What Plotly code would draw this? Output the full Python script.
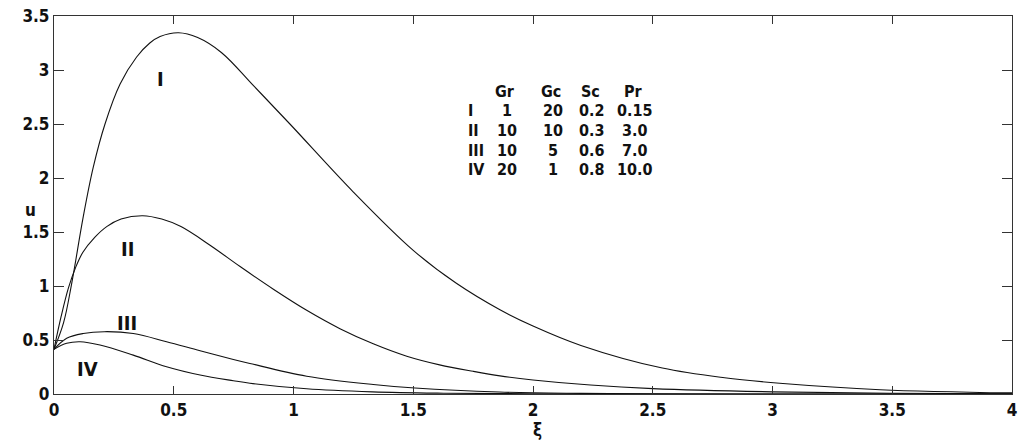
import plotly.graph_objects as go

# ---- data ----
x_I = [0, 0.04, 0.074, 0.122, 0.164, 0.213, 0.276, 0.345, 0.4, 0.443, 0.52, 0.6, 0.7, 0.835, 0.985, 1.25, 1.5, 1.68, 1.862, 2.0, 2.2, 2.54, 2.8, 3.03, 3.45, 4.0]
u_I = [0.414, 0.66, 1.025, 1.64, 2.1, 2.5, 2.87, 3.12, 3.25, 3.31, 3.345, 3.30, 3.16, 2.85, 2.5, 1.87, 1.33, 1.025, 0.78, 0.63, 0.45, 0.24, 0.15, 0.10, 0.04, 0.01]

x_II = [0, 0.03, 0.06, 0.09, 0.12, 0.17, 0.22, 0.28, 0.37, 0.45, 0.53, 0.65, 0.777, 0.916, 1.055, 1.194, 1.333, 1.473, 1.61, 1.75, 1.862, 2.0, 2.24, 2.5, 3.0, 3.5, 4.0]
u_II = [0.414, 0.72, 0.98, 1.17, 1.31, 1.45, 1.55, 1.62, 1.651, 1.62, 1.55, 1.38, 1.18, 0.97, 0.775, 0.605, 0.465, 0.35, 0.27, 0.21, 0.168, 0.13, 0.083, 0.05, 0.02, 0.007, 0.003]

x_III = [0, 0.053, 0.122, 0.21, 0.331, 0.47, 0.61, 0.749, 0.818, 1.055, 1.333, 1.507, 1.86, 2.2, 2.5, 3.0, 4.0]
u_III = [0.414, 0.516, 0.56, 0.577, 0.56, 0.484, 0.40, 0.32, 0.283, 0.165, 0.088, 0.055, 0.018, 0.006, 0.002, 0.0, 0.0]

x_IV = [0, 0.053, 0.109, 0.192, 0.331, 0.47, 0.61, 0.749, 0.818, 1.055, 1.33, 1.6, 2.0, 3.0, 4.0]
u_IV = [0.414, 0.47, 0.484, 0.454, 0.36, 0.253, 0.176, 0.123, 0.10, 0.048, 0.02, 0.008, 0.002, 0.0, 0.0]

curve_names = ["I", "II", "III", "IV"]
label_x = [0.443, 0.306, 0.306, 0.139]
label_u = [2.92, 1.34, 0.66, 0.229]

x_ticks = [0, 0.5, 1, 1.5, 2, 2.5, 3, 3.5, 4]
x_ticktext = ["0", "0.5", "1", "1.5", "2", "2.5", "3", "3.5", "4"]
u_ticks = [0, 0.5, 1, 1.5, 2, 2.5, 3, 3.5]
u_ticktext = ["0", "0.5", "1", "1.5", "2", "2.5", "3", "3.5"]

table_header = ["Gr", "Gc", "Sc", "Pr"]
table_rows = ["I", "II", "III", "IV"]
Gr = ["1", "10", "10", "20"]
Gc = ["20", "10", "5", "1"]
Sc = ["0.2", "0.3", "0.6", "0.8"]
Pr = ["0.15", "3.0", "7.0", "10.0"]

FONT = "DejaVu Sans Condensed, Liberation Sans Narrow, sans-serif"

fig = go.Figure()
for xs, us in [(x_I, u_I), (x_II, u_II), (x_III, u_III), (x_IV, u_IV)]:
    fig.add_trace(go.Scatter(x=xs, y=us, mode="lines",
                             line=dict(color="#111", width=1.1, shape="spline", smoothing=1.0),
                             showlegend=False, hoverinfo="skip"))

ann = []
for name, lx, lu in zip(curve_names, label_x, label_u):
    ann.append(dict(x=lx, y=lu, xref="x", yref="y", text="<b>%s</b>" % name, showarrow=False,
                    xanchor="center", yanchor="middle",
                    font=dict(family=FONT, size=20, color="#111")))

# table: page-pixel layout converted to data coords (plot area 54..1012 px, 16..394 px)
def px2x(p):
    return (p - 54) / 958 * 4
def py2u(p):
    return (394 - p) / 378 * 3.5

col_px = [505, 551, 590, 633]
head_py = 91
row_py = [110.5, 130, 150, 169.5]
roman_px = 466
tfont = dict(family=FONT, size=16, color="#111")
for h, cx in zip(table_header, col_px):
    ann.append(dict(x=px2x(cx), y=py2u(head_py), text="<b>%s</b>" % h, showarrow=False, font=tfont,
                    xanchor="center", yanchor="middle"))
for i, r in enumerate(table_rows):
    ann.append(dict(x=px2x(roman_px), y=py2u(row_py[i]), text="<b>%s</b>" % r, showarrow=False,
                    font=tfont, xanchor="left", yanchor="middle"))
    for vals, cx in zip([Gr, Gc, Sc, Pr], col_px):
        ann.append(dict(x=px2x(cx + 2), y=py2u(row_py[i]), text="<b>%s</b>" % vals[i], showarrow=False,
                        font=tfont, xanchor="center", yanchor="middle"))

# axis titles
ann.append(dict(x=(537 - 54) / 958, y=-(430 - 394) / 378, xref="paper", yref="paper", text="<b>ξ</b>",
                showarrow=False, xanchor="center", yanchor="middle",
                font=dict(family=FONT, size=17, color="#111")))
ann.append(dict(x=(30 - 54) / 958, y=(394 - 210) / 378, xref="paper", yref="paper", text="<b>u</b>",
                showarrow=False, xanchor="center", yanchor="middle",
                font=dict(family=FONT, size=17, color="#111")))

axis_common = dict(showline=True, linecolor="#333", linewidth=1.2, mirror="ticks", ticks="inside",
                   tickcolor="#333", showgrid=False, zeroline=False, automargin=False,
                   ticklabeloverflow="allow",
                   tickfont=dict(family=FONT, size=17, color="#111"))

fig.update_layout(
    width=1019, height=445,
    margin=dict(l=54, r=7, t=16, b=51),
    paper_bgcolor="white", plot_bgcolor="white",
    xaxis=dict(range=[0, 4], tickvals=x_ticks, ticktext=["<b>%s</b>" % t for t in x_ticktext],
               ticklen=8, **axis_common),
    yaxis=dict(range=[0, 3.5], tickvals=u_ticks, ticktext=["<b>%s</b>" % t for t in u_ticktext],
               ticklen=10, **axis_common),
    annotations=ann,
)

# remove the default page margin so the figure fills the window exactly; hide the mode bar
fig.write_html("out.html", config={"displayModeBar": False},
               post_script="document.body.style.margin='0';")
